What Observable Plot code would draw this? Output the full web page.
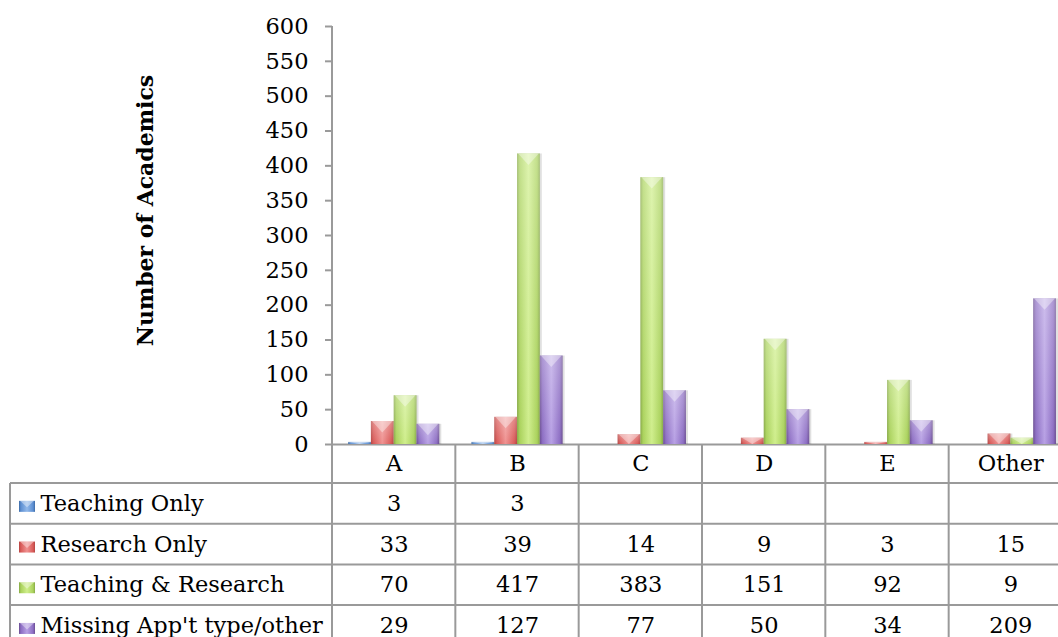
<!DOCTYPE html>
<html>
<head>
<meta charset="utf-8">
<script src="https://cdn.jsdelivr.net/npm/d3@7"></script>
<script src="https://cdn.jsdelivr.net/npm/@observablehq/plot@0.6"></script>
<style>
  html, body { margin: 0; padding: 0; background: #fff; overflow: hidden; }
  #chart { width: 1058px; height: 637px; overflow: hidden; }
</style>
</head>
<body>
<div id="chart"></div>
<script>
// Academic staff by appointment type, per group
const categories = ["A", "B", "C", "D", "E", "Other"];
const seriesNames = ["Teaching Only", "Research Only", "Teaching & Research", "Missing App't type/other"];
const teachingOnly = [3, 3, null, null, null, null];
const researchOnly = [33, 39, 14, 9, 3, 15];
const teachingResearch = [70, 417, 383, 151, 92, 9];
const missingType = [29, 127, 77, 50, 34, 209];
const yTicks = [0, 50, 100, 150, 200, 250, 300, 350, 400, 450, 500, 550, 600];
const yTitle = "Number of Academics";

const seriesValues = [teachingOnly, researchOnly, teachingResearch, missingType];

// bevelled fill shades per series: edge, body, highlight
const shades = [
  ["#3d6ba6", "#5d8fd2", "#92b9ea"],
  ["#b54442", "#d95b59", "#ef9190"],
  ["#86a846", "#aad25c", "#cfee8c"],
  ["#6a4d91", "#8c6dc3", "#b7a0e4"]
];

const gridColor = "#9a9a9a";
const font = "DejaVu Serif";
const fontSize = 22.5;

// geometry of the plot and the data table below it
const W = 1058, H = 637;
const plotLeft = 332, plotTop = 26, baseline = 444, bandEnd = 1072;
const tableLeft = 10, headerH = 39, rowH = 40.7;
const bw = (bandEnd - plotLeft) / categories.length;
const groupPad = 16.1, barW = 22.8;

const rowsFor = (i) => categories
  .map((c, j) => ({cat: c, v: seriesValues[i][j], s: i}))
  .filter(d => d.v != null);

function defs() {
  const g = d3.create("svg:g");
  const d = g.append("defs");
  shades.forEach(([edge, body, light], i) => {
    const lg = d.append("linearGradient").attr("id", `bar-grad-${i}`)
      .attr("x1", 0).attr("x2", 1).attr("y1", 0).attr("y2", 0);
    [[0, edge], [0.12, body], [0.5, light], [0.88, body], [1, edge]].forEach(([o, c]) =>
      lg.append("stop").attr("offset", o).attr("stop-color", c));
  });
  const sheen = d.append("linearGradient").attr("id", "bar-sheen")
    .attr("x1", 0).attr("x2", 0).attr("y1", 0).attr("y2", 1);
  sheen.append("stop").attr("offset", 0).attr("stop-color", "#fff").attr("stop-opacity", 0.3);
  sheen.append("stop").attr("offset", 1).attr("stop-color", "#fff").attr("stop-opacity", 0);
  return g.node();
}

// table rules, the value axis line, bevel tops of the bars and legend keys
function tableAndBevels(index, scales, values, dims) {
  const g = d3.create("svg:g");
  const x = scales.x, y = scales.y;
  const y0 = y(0);
  const lines = g.append("g").attr("stroke", gridColor).attr("stroke-width", 2).attr("fill", "none");
  // value axis line, continuing down through the table
  lines.append("line").attr("x1", dims.marginLeft).attr("x2", dims.marginLeft)
    .attr("y1", y(yTicks[yTicks.length - 1])).attr("y2", dims.height);
  // column separators
  categories.slice(1).forEach(c => {
    lines.append("line").attr("x1", x(c)).attr("x2", x(c)).attr("y1", y0).attr("y2", dims.height);
  });
  // row separators
  for (let k = 0; k < seriesNames.length; k++) {
    const yy = y0 + headerH + rowH * k;
    lines.append("line").attr("x1", tableLeft).attr("x2", dims.width).attr("y1", yy).attr("y2", yy);
  }
  lines.append("line").attr("x1", tableLeft).attr("x2", tableLeft)
    .attr("y1", y0 + headerH).attr("y2", dims.height);

  // bevel highlight at the top of every bar
  const bev = g.append("g").attr("fill", "#fff").attr("fill-opacity", 0.38);
  seriesValues.forEach((arr, i) => {
    rowsFor(i).forEach(d => {
      const x0 = x(d.cat) + groupPad + barW * i;
      const yt = y(d.v);
      const h = Math.min(barW / 2, y0 - yt);
      bev.append("path").attr("d", `M${x0 + 1},${yt}L${x0 + barW - 1},${yt}L${x0 + barW / 2},${yt + h}Z`);
    });
  });

  // legend keys in the table's first column
  seriesNames.forEach((n, i) => {
    const cy = y0 + headerH + rowH * (i + 0.5) + 3;
    g.append("rect").attr("x", 19).attr("y", cy - 5.5).attr("width", 16).attr("height", 11)
      .attr("fill", `url(#bar-grad-${i})`);
    g.append("path").attr("d", `M20,${cy - 5.5}L34,${cy - 5.5}L27,${cy + 1}Z`)
      .attr("fill", "#fff").attr("fill-opacity", 0.4);
  });
  return g.node();
}

const marks = [defs, Plot.ruleY([0], {stroke: gridColor, strokeWidth: 2})];

seriesValues.forEach((arr, i) => {
  const insetLeft = groupPad + barW * i;
  const insetRight = bw - groupPad - barW * (i + 1);
  const rows = rowsFor(i);
  marks.push(
    Plot.barY(rows, {x: "cat", y: "v", insetLeft, insetRight, dx: 2, fill: "#000", fillOpacity: 0.12}),
    Plot.barY(rows, {x: "cat", y: "v", insetLeft, insetRight, fill: `url(#bar-grad-${i})`}),
    Plot.barY(rows, {x: "cat", y: "v", insetLeft, insetRight, fill: "url(#bar-sheen)"})
  );
});

marks.push(tableAndBevels);

marks.push(
  Plot.axisY(yTicks, {tickSize: 7, tickPadding: 17, stroke: gridColor, strokeWidth: 2, fill: "#000", fontSize, label: null}),
  Plot.text([yTitle], {
    frameAnchor: "top-left", dx: 145 - plotLeft, dy: 210 - plotTop, rotate: -90,
    textAnchor: "middle", lineAnchor: "middle", fontWeight: "bold", fontSize: 22, fill: "#000"
  }),
  // header row with the group names
  Plot.text(categories, {x: d => d, y: 0, dy: headerH / 2, fontSize, fill: "#000"})
);

seriesNames.forEach((name, i) => {
  const dy = headerH + rowH * (i + 0.5);
  marks.push(
    Plot.text([name], {frameAnchor: "left", y: 0, dx: 40 - plotLeft, dy, textAnchor: "start", lineAnchor: "middle", fontSize, fill: "#000"}),
    Plot.text(rowsFor(i), {x: "cat", y: 0, dy, text: d => String(d.v), fontSize, fill: "#000"})
  );
});

const chart = Plot.plot({
  width: W,
  height: H,
  marginLeft: plotLeft,
  marginTop: plotTop,
  marginRight: 0,
  marginBottom: 0,
  x: {domain: categories, range: [plotLeft, bandEnd], padding: 0, round: false, axis: null},
  y: {domain: [0, 600], range: [baseline, plotTop], axis: null},
  style: {fontFamily: font, fontSize: `${fontSize}px`, color: "#000", background: "#fff"},
  marks
});

document.getElementById("chart").append(chart);
</script>
</body>
</html>
